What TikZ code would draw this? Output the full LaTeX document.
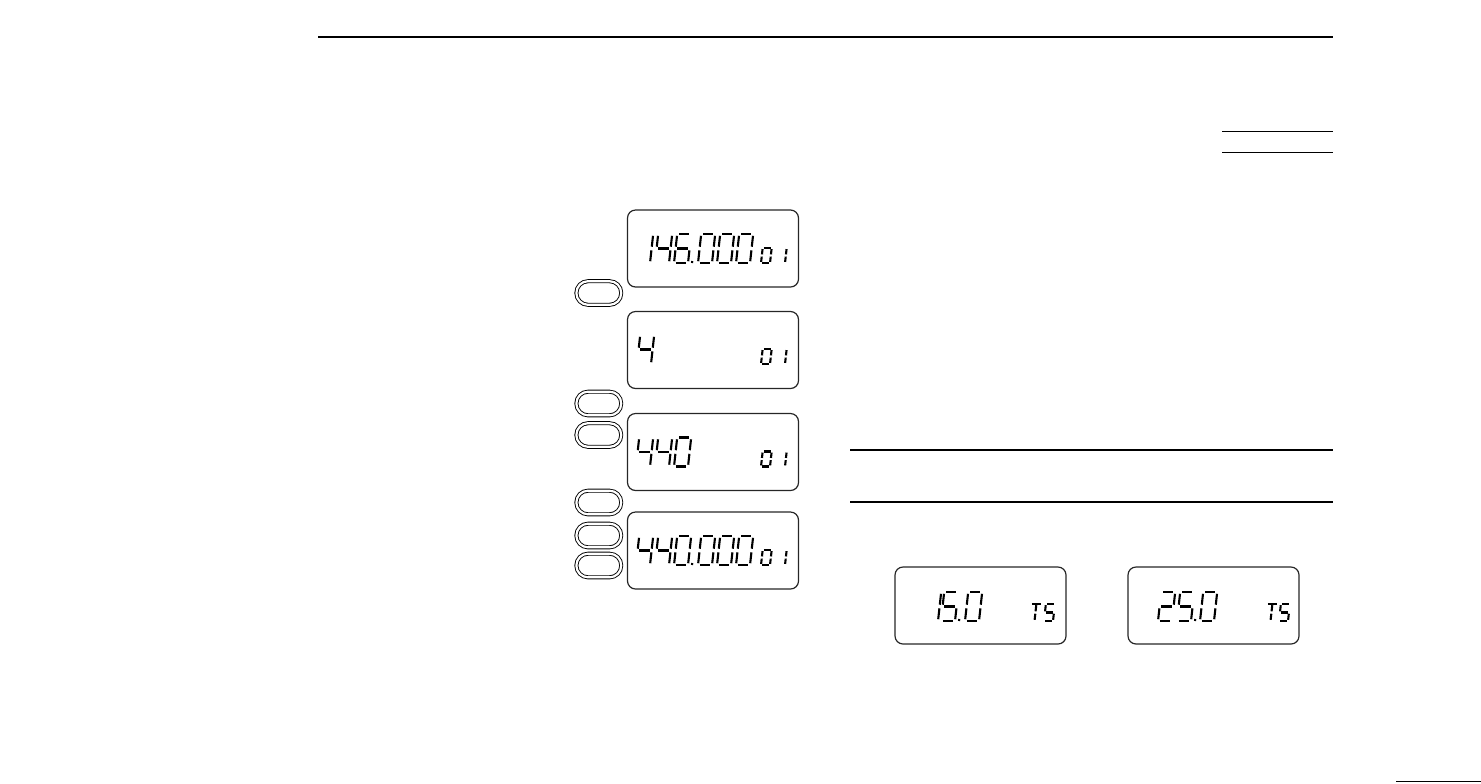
\documentclass[tikz,border=0pt]{standalone}
\tikzset{
  lcd/.style={line width=1.05pt},
  lcdbox/.style={draw=black!85, line width=0.6pt, rounded corners=4pt, minimum width=85.5pt, minimum height=38.5pt, inner sep=0pt},
  btn/.style={draw=black, line width=0.45pt, double=white, double distance=1.1pt, rounded corners=5.8pt, minimum width=22.4pt, minimum height=11.8pt, inner sep=0pt},
  heavyrule/.style={line width=1.2pt},
  thinrule/.style={line width=0.75pt}
}
% seven-segment pieces (local units: px, y upward)
\def\lcdsa{\draw[lcd] (\G,\H) -- ({\W-\G},\H);}
\def\lcdsb{\draw[lcd] (\W,{\H-\G}) -- (\W,{\M+\G});}
\def\lcdsc{\draw[lcd] (\W,{\M-\G}) -- (\W,\G);}
\def\lcdsd{\draw[lcd] (\G,0) -- ({\W-\G},0);}
\def\lcdse{\draw[lcd] (0,\G) -- (0,{\M-\G});}
\def\lcdsf{\draw[lcd] (0,{\M+\G}) -- (0,{\H-\G});}
\def\lcdsg{\draw[lcd] (\G,\M) -- ({\W-\G},\M);}
\def\lcdsp{\draw[lcd] ({\W+4},0) -- ({\W+4},2);}
\def\lcdst{\draw[lcd] (0,\H) -- (\W,\H);}
\def\lcdsm{\draw[lcd] ({\W/2},{\H-\G}) -- ({\W/2},{\M+\G}); \draw[lcd] ({\W/2},{\M-\G}) -- ({\W/2},\G);}
\newcommand\lcddigit[6][1.8]{%
  \begin{scope}[shift={(#2,#3)},x=0.5pt,y=0.5pt,xslant=0.11]
    \def\W{#4}\def\H{#5}\pgfmathsetmacro\M{#5/2}\def\G{#1}%
    \foreach \sname in {#6}{\csname lcds\sname\endcsname}
  \end{scope}}
\newcommand\bigd[3]{\lcddigit{#1}{#2}{14}{29}{#3}}
\newcommand\smalld[3]{\lcddigit[1.1]{#1}{#2}{9}{15}{#3}}
\begin{document}
\begin{tikzpicture}[x=0.5pt,y=-0.5pt]
\useasboundingbox (0,0) rectangle (1481,783);

% rules
\draw[heavyrule] (318,36.7) -- (1333,36.7);
\draw[thinrule] (1222,131.7) -- (1333,131.7);
\draw[thinrule] (1222,152.3) -- (1333,152.3);
\draw[thinrule] (850,450) -- (1333,450);
\draw[thinrule] (850,502) -- (1333,502);
\draw[thinrule] (1396,781.5) -- (1481,781.5);

% LCD frames
\node[lcdbox] (d1) at (713,248.5) {};
\node[lcdbox] (d2) at (713,350) {};
\node[lcdbox] (d3) at (713,452) {};
\node[lcdbox] (d4) at (713,550.5) {};
\node[lcdbox] (d5) at (980.5,605.5) {};
\node[lcdbox] (d6) at (1213.5,605.5) {};

% buttons
\node[btn] (k1) at (598.8,293) {};
\node[btn] (k2) at (598.8,403.5) {};
\node[btn] (k3) at (598.8,435) {};
\node[btn] (k4) at (598.8,502.5) {};
\node[btn] (k5) at (598.8,535.5) {};
\node[btn] (k6) at (598.8,565.5) {};

% display 1: 146.000 01
\bigd{636}{263}{b,c}
\bigd{655}{263}{f,g,b,c}
\bigd{674}{263}{a,f,g,e,d,c,p}
\bigd{698}{263}{a,b,c,d,e,f}
\bigd{717}{263}{a,b,c,d,e,f}
\bigd{736}{263}{a,b,c,d,e,f}
\smalld{761}{263}{a,b,c,d,e,f}
\smalld{776}{263}{b,c}

% display 2: 4 01
\bigd{637}{364}{f,g,b,c}
\smalld{761}{364}{a,b,c,d,e,f}
\smalld{776}{364}{b,c}

% display 3: 440 01
\bigd{636}{466.5}{f,g,b,c}
\bigd{655}{466.5}{f,g,b,c}
\bigd{674}{466.5}{a,b,c,d,e,f}
\smalld{761}{466.5}{a,b,c,d,e,f}
\smalld{776}{466.5}{b,c}

% display 4: 440.000 01
\bigd{636}{565}{f,g,b,c}
\bigd{655}{565}{f,g,b,c}
\bigd{674}{565}{a,b,c,d,e,f,p}
\bigd{698}{565}{a,b,c,d,e,f}
\bigd{717}{565}{a,b,c,d,e,f}
\bigd{736}{565}{a,b,c,d,e,f}
\smalld{761}{565}{a,b,c,d,e,f}
\smalld{776}{565}{b,c}

% display 5: 15.0 TS
\bigd{924}{621}{b,c}
\bigd{941}{621}{a,f,g,c,d,p}
\bigd{965}{621}{a,b,c,d,e,f}
\lcddigit[1.2]{1030}{621}{9}{17}{t,m}
\lcddigit[1.2]{1044}{621}{9}{17}{a,f,g,c,d}

% display 6: 25.0 TS
\bigd{1158}{621}{a,b,g,e,d}
\bigd{1177}{621}{a,f,g,c,d,p}
\bigd{1200}{621}{a,b,c,d,e,f}
\lcddigit[1.2]{1266}{621}{9}{17}{t,m}
\lcddigit[1.2]{1279}{621}{9}{17}{a,f,g,c,d}
\end{tikzpicture}
\end{document}
